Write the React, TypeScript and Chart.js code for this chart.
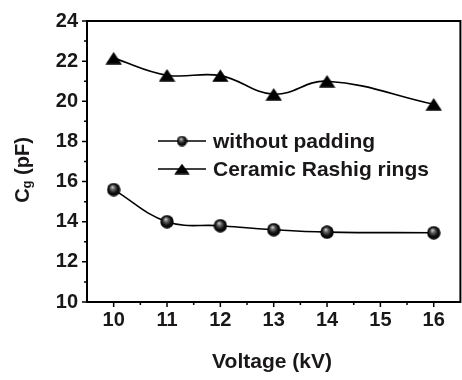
import React, { useEffect, useRef } from 'react';
import { Chart, registerables } from 'chart.js';

Chart.register(...registerables);

// ---- data ----
const voltages = [10, 11, 12, 13, 14, 16];
const withoutPadding = [15.6, 14.0, 13.8, 13.6, 13.48, 13.45];
const ceramicRings = [22.15, 21.3, 21.28, 20.35, 21.0, 19.85];
const xTickValues = [10, 11, 12, 13, 14, 15, 16];
const yTickValues = [10, 12, 14, 16, 18, 20, 22, 24];
const seriesNames = ['without padding', 'Ceramic Rashig rings'];
const xTitle = 'Voltage (kV)';

const FONT_FAMILY = '"Liberation Sans", Arial, Helvetica, sans-serif';
const TEXT = '#1a1718';

function makeSphere(d: number) {
  const c = document.createElement('canvas');
  c.width = d;
  c.height = d;
  const ctx = c.getContext('2d')!;
  const r = d / 2;
  const g = ctx.createRadialGradient(r * 0.8, r * 0.6, 0, r, r, r);
  g.addColorStop(0, '#e0e0e0');
  g.addColorStop(0.3, '#666');
  g.addColorStop(0.65, '#111');
  g.addColorStop(1, '#000');
  ctx.fillStyle = g;
  ctx.beginPath();
  ctx.arc(r, r, r - 0.3, 0, Math.PI * 2);
  ctx.fill();
  return c;
}

function makeTriangle(w: number, h: number) {
  const c = document.createElement('canvas');
  c.width = w;
  c.height = h;
  const ctx = c.getContext('2d')!;
  ctx.fillStyle = '#000';
  ctx.beginPath();
  ctx.moveTo(w / 2, 0.3);
  ctx.lineTo(w - 0.3, h - 0.3);
  ctx.lineTo(0.3, h - 0.3);
  ctx.closePath();
  ctx.fill();
  return c;
}

export default function App() {
  const ref = useRef<HTMLCanvasElement | null>(null);

  useEffect(() => {
    if (!ref.current) return;
    const sphere = makeSphere(14);
    const tri = makeTriangle(17, 13);
    const sphereSmall = makeSphere(11);
    const triSmall = makeTriangle(16, 11);

    const framePlugin = {
      id: 'frame',
      afterDatasetsDraw(chart: any) {
        const { ctx, chartArea } = chart;
        const xs = chart.scales.x;
        const ys = chart.scales.y;
        const { left, right, top, bottom } = chartArea;
        ctx.save();
        ctx.strokeStyle = '#000';
        ctx.lineWidth = 2;
        ctx.beginPath();
        ctx.moveTo(left, top);
        ctx.lineTo(right, top);
        ctx.lineTo(right, bottom);
        ctx.lineTo(left, bottom);
        ctx.closePath();
        ctx.stroke();
        ctx.lineWidth = 1.5;
        ctx.beginPath();
        xs.ticks.forEach((t: any, i: number) => {
          const px = xs.getPixelForValue(t.value);
          ctx.moveTo(px, bottom);
          ctx.lineTo(px, bottom + 5);
          if (i < xs.ticks.length - 1) {
            const mid = xs.getPixelForValue((t.value + xs.ticks[i + 1].value) / 2);
            ctx.moveTo(mid, bottom);
            ctx.lineTo(mid, bottom + 3);
          }
        });
        ys.ticks.forEach((t: any, i: number) => {
          const py = ys.getPixelForValue(t.value);
          ctx.moveTo(left, py);
          ctx.lineTo(left - 5, py);
          if (i < ys.ticks.length - 1) {
            const mid = ys.getPixelForValue((t.value + ys.ticks[i + 1].value) / 2);
            ctx.moveTo(left, mid);
            ctx.lineTo(left - 3, mid);
          }
        });
        ctx.stroke();

        // axis titles
        ctx.fillStyle = TEXT;
        ctx.font = `bold 21px ${FONT_FAMILY}`;
        ctx.textAlign = 'center';
        ctx.textBaseline = 'middle';
        ctx.fillText(xTitle, 272, 362);

        ctx.save();
        ctx.translate(22, 170);
        ctx.rotate(-Math.PI / 2);
        ctx.textAlign = 'left';
        ctx.textBaseline = 'alphabetic';
        const big = `bold 20px ${FONT_FAMILY}`;
        const small = `bold 13px ${FONT_FAMILY}`;
        ctx.font = big;
        const wC = ctx.measureText('C').width;
        const wRest = ctx.measureText(' (pF)').width;
        ctx.font = small;
        const wg = ctx.measureText('g').width;
        const total = wC + wg + wRest;
        let x0 = -total / 2;
        const base = 7;
        ctx.font = big;
        ctx.fillText('C', x0, base);
        x0 += wC;
        ctx.font = small;
        ctx.fillText('g', x0, base + 2);
        x0 += wg;
        ctx.font = big;
        ctx.fillText(' (pF)', x0, base);
        ctx.restore();

        // legend
        const items = [
          { y: 141, img: sphereSmall, label: seriesNames[0] },
          { y: 169, img: triSmall, label: seriesNames[1] },
        ];
        ctx.font = `bold 21px ${FONT_FAMILY}`;
        ctx.textAlign = 'left';
        ctx.textBaseline = 'middle';
        items.forEach((it) => {
          ctx.strokeStyle = '#000';
          ctx.lineWidth = 1.6;
          ctx.beginPath();
          ctx.moveTo(158, it.y);
          ctx.lineTo(206, it.y);
          ctx.stroke();
          ctx.drawImage(it.img, 182 - it.img.width / 2, it.y - it.img.height / 2);
          ctx.fillStyle = TEXT;
          ctx.fillText(it.label, 213, it.y + 1);
        });
        ctx.restore();
      },
    };

    const tickFont = { family: FONT_FAMILY, size: 20, weight: 'bold' as const };

    const chart = new Chart(ref.current, {
      type: 'line',
      data: {
        datasets: [
          {
            label: seriesNames[0],
            data: voltages.map((v, i) => ({ x: v, y: withoutPadding[i] })),
            borderColor: '#000',
            borderWidth: 1.6,
            tension: 0.4,
            pointStyle: sphere as any,
            pointRadius: 7,
            fill: false,
          },
          {
            label: seriesNames[1],
            data: voltages.map((v, i) => ({ x: v, y: ceramicRings[i] })),
            borderColor: '#000',
            borderWidth: 1.6,
            tension: 0.4,
            pointStyle: tri as any,
            pointRadius: 8,
            fill: false,
          },
        ],
      },
      options: {
        responsive: false,
        animation: false,
        layout: { padding: { top: 18, right: 3, left: 0, bottom: 0 } },
        plugins: {
          legend: { display: false },
          tooltip: { enabled: false },
        },
        scales: {
          x: {
            type: 'linear',
            min: 9.5,
            max: 16.5,
            grid: { display: false, drawTicks: false },
            border: { display: false },
            afterBuildTicks: (s: any) => {
              s.ticks = xTickValues.map((v) => ({ value: v }));
            },
            afterFit: (s: any) => {
              s.height = 78;
            },
            ticks: {
              font: tickFont,
              color: TEXT,
              padding: 6,
              autoSkip: false,
              maxRotation: 0,
              callback: (v: any) => String(v),
            },
          },
          y: {
            type: 'linear',
            min: 10,
            max: 24,
            grid: { display: false, drawTicks: false },
            border: { display: false },
            afterBuildTicks: (s: any) => {
              s.ticks = yTickValues.map((v) => ({ value: v }));
            },
            afterFit: (s: any) => {
              s.width = 87;
            },
            ticks: {
              font: tickFont,
              color: TEXT,
              padding: 9,
              autoSkip: false,
              callback: (v: any) => String(v),
            },
          },
        },
      },
      plugins: [framePlugin],
    });
    return () => chart.destroy();
  }, []);

  return (
    <div
      style={{
        position: 'fixed',
        left: 0,
        top: 0,
        width: 462,
        height: 380,
        overflow: 'hidden',
        background: '#fff',
      }}
    >
      <canvas ref={ref} width={470} height={380} />
    </div>
  );
}
